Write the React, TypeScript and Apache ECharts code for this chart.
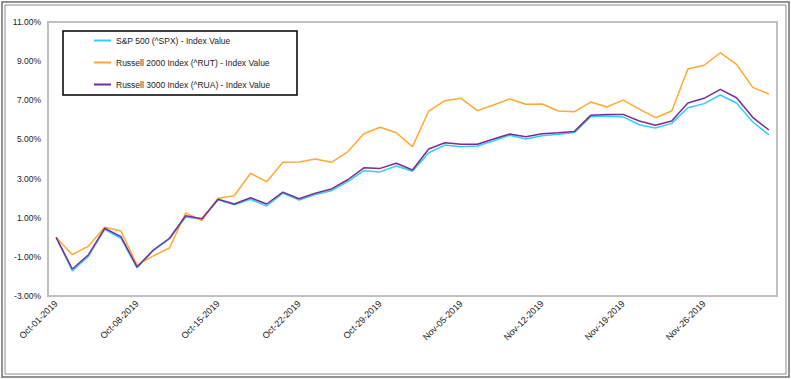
import React, { useEffect, useRef } from "react";
import * as echarts from "echarts";

const dates = [
  "Oct-01-2019", "Oct-02-2019", "Oct-03-2019", "Oct-04-2019", "Oct-07-2019",
  "Oct-08-2019", "Oct-09-2019", "Oct-10-2019", "Oct-11-2019", "Oct-14-2019",
  "Oct-15-2019", "Oct-16-2019", "Oct-17-2019", "Oct-18-2019", "Oct-21-2019",
  "Oct-22-2019", "Oct-23-2019", "Oct-24-2019", "Oct-25-2019", "Oct-28-2019",
  "Oct-29-2019", "Oct-30-2019", "Oct-31-2019", "Nov-01-2019", "Nov-04-2019",
  "Nov-05-2019", "Nov-06-2019", "Nov-07-2019", "Nov-08-2019", "Nov-11-2019",
  "Nov-12-2019", "Nov-13-2019", "Nov-14-2019", "Nov-15-2019", "Nov-18-2019",
  "Nov-19-2019", "Nov-20-2019", "Nov-21-2019", "Nov-22-2019", "Nov-25-2019",
  "Nov-26-2019", "Nov-27-2019", "Nov-28-2019", "Nov-29-2019", "Dec-02-2019",
];

const spx = [
  0, -1.72, -0.96, 0.41, -0.05, -1.56, -0.68, -0.08, 1.03, 0.92,
  1.92, 1.66, 1.94, 1.6, 2.25, 1.9, 2.18, 2.38, 2.84, 3.4,
  3.34, 3.64, 3.37, 4.32, 4.71, 4.63, 4.66, 4.93, 5.21, 5.02,
  5.19, 5.26, 5.36, 6.16, 6.2, 6.15, 5.75, 5.58, 5.82, 6.62,
  6.83, 7.27, 6.86, 5.89, 5.23,
];

const rut = [
  0, -0.89, -0.45, 0.51, 0.32, -1.42, -0.95, -0.55, 1.25, 0.85,
  2.0, 2.12, 3.27, 2.84, 3.83, 3.85, 4.0, 3.83, 4.37, 5.29,
  5.62, 5.34, 4.63, 6.45, 6.98, 7.1, 6.47, 6.76, 7.07, 6.8,
  6.81, 6.45, 6.42, 6.91, 6.66, 7.01, 6.55, 6.11, 6.45, 8.6,
  8.79, 9.43, 8.84, 7.66, 7.32,
];

const rua = [
  0, -1.62, -0.89, 0.46, 0.03, -1.52, -0.65, -0.05, 1.1, 0.95,
  1.94, 1.7, 2.02, 1.7, 2.31, 1.97, 2.25, 2.47, 2.94, 3.55,
  3.52, 3.78, 3.44, 4.51, 4.83, 4.75, 4.75, 5.02, 5.28, 5.14,
  5.29, 5.34, 5.41, 6.23, 6.28, 6.28, 5.94, 5.72, 5.94, 6.86,
  7.1, 7.56, 7.13, 6.13, 5.48,
];

const seriesNames = [
  "S&P 500 (^SPX) - Index Value",
  "Russell 2000 Index (^RUT) - Index Value",
  "Russell 3000 Index (^RUA) - Index Value",
];

const colors = ["#33CCFF", "#FFA933", "#7B2D8E"];

const FONT = "'Liberation Sans', Arial, sans-serif";

export default function App() {
  const ref = useRef<HTMLDivElement>(null);

  useEffect(() => {
    if (!ref.current) return;
    const chart = echarts.init(ref.current, null, { renderer: "svg" });
    const data = [spx, rut, rua];
    chart.setOption({
      animation: false,
      backgroundColor: "#ffffff",
      textStyle: { fontFamily: FONT },
      grid: {
        left: 48,
        right: 14,
        top: 22,
        bottom: 83,
        show: true,
        borderColor: "#c0c0c0",
        borderWidth: 2,
        backgroundColor: "#ffffff",
      },
      legend: {
        orient: "vertical",
        left: 94,
        top: 36,
        padding: 0,
        itemGap: 13,
        itemWidth: 17,
        itemHeight: 2,
        icon: "rect",
        textStyle: { fontFamily: FONT, fontSize: 8.5, color: "#222" },
        data: seriesNames,
      },
      xAxis: {
        type: "category",
        data: dates,
        boundaryGap: true,
        axisLine: { show: true, onZero: false, lineStyle: { color: "#c0c0c0", width: 2 } },
        axisTick: { show: false },
        axisLabel: {
          interval: 4,
          rotate: 45,
          margin: 6,
          fontSize: 9,
          color: "#222",
          fontFamily: FONT,
        },
        splitLine: { show: false },
      },
      yAxis: {
        type: "value",
        min: -3,
        max: 11,
        interval: 2,
        axisLine: { show: true, lineStyle: { color: "#c0c0c0", width: 2 } },
        axisTick: { show: false },
        axisLabel: {
          margin: 7,
          fontSize: 8.5,
          color: "#222",
          fontFamily: FONT,
          formatter: (v: number) => v.toFixed(2) + "%",
        },
        splitLine: { show: false },
      },
      series: seriesNames.map((name, i) => ({
        name,
        type: "line",
        data: data[i],
        showSymbol: false,
        symbol: "none",
        lineStyle: { color: colors[i], width: 1.5 },
        itemStyle: { color: colors[i] },
        z: 2 + i,
      })),
      graphic: [
        {
          type: "rect",
          shape: { x: 2, y: 2, width: 787, height: 375 },
          style: { fill: "none", stroke: "#6f6f6f", lineWidth: 1.5 },
          silent: true,
          z: 10,
        },
        {
          type: "rect",
          shape: { x: 5, y: 5, width: 781, height: 369 },
          style: { fill: "none", stroke: "#8a8a8a", lineWidth: 1 },
          silent: true,
          z: 10,
        },
        {
          type: "rect",
          shape: { x: 63, y: 31, width: 234, height: 64 },
          style: { fill: "#ffffff", stroke: "#000000", lineWidth: 1.5 },
          silent: true,
          z: 0,
          zlevel: 0,
        },
      ],
    });
    return () => chart.dispose();
  }, []);

  return (
    <div
      ref={ref}
      style={{ position: "fixed", left: 0, top: 0, width: 791, height: 379 }}
    />
  );
}
